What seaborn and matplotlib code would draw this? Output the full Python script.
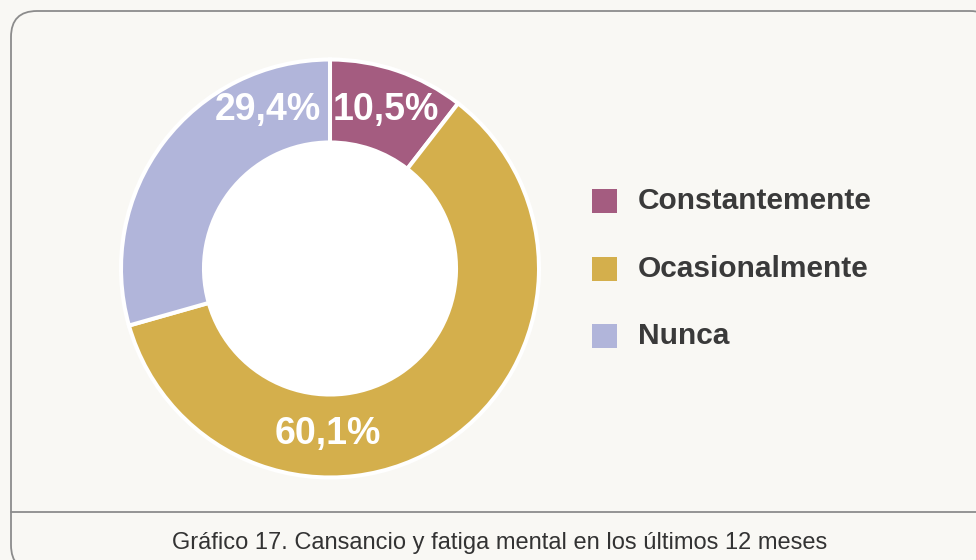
import matplotlib
matplotlib.use("Agg")
import matplotlib.pyplot as plt
from matplotlib.patches import FancyBboxPatch, Rectangle, Circle
import seaborn as sns

categories = ["Constantemente", "Ocasionalmente", "Nunca"]
values = [10.5, 60.1, 29.4]
value_labels = ["10,5%", "60,1%", "29,4%"]
colors = ["#a45c80", "#d4af4c", "#b1b5da"]
caption = "Gráfico 17. Cansancio y fatiga mental en los últimos 12 meses"

sns.set_theme(style="white")
plt.rcParams["font.family"] = ["Liberation Sans", "DejaVu Sans"]

bg = "#f9f8f4"
W, H = 976, 560
fig = plt.figure(figsize=(W / 100, H / 100), dpi=100, facecolor=bg)

# background layer in pixel units: rounded card, divider, caption, legend
bgax = fig.add_axes([0, 0, 1, 1], zorder=-1)
bgax.set_xlim(0, W)
bgax.set_ylim(H, 0)
bgax.axis("off")
bgax.add_patch(FancyBboxPatch((11, 11), 985, 560,
                              boxstyle="round,pad=0,rounding_size=26",
                              facecolor=bg, edgecolor="#8c8c8c",
                              linewidth=1.3))
bgax.plot([11, W], [512, 512], color="#8c8c8c", linewidth=1.3)
bgax.text(500, 543, caption, ha="center", va="center",
          fontsize=17, color="#333333")

legend_y = [201, 269, 336]
for cat, col, ly in zip(categories, colors, legend_y):
    bgax.add_patch(Rectangle((592, ly - 12), 25, 24, facecolor=col,
                             edgecolor="none"))
    bgax.text(638, ly, cat, ha="left", va="center", fontsize=21.5,
              fontweight="bold", color="#3a3a3a")

# donut
cx, cy, r = 330, 268.5, 209
ring = 0.397
ax = fig.add_axes([(cx - r - 4) / W, (H - cy - r - 4) / H,
                   (2 * r + 8) / W, (2 * r + 8) / H])
ax.set_facecolor("none")
palette = sns.color_palette(colors)
ax.add_patch(Circle((0, 0), 1 - ring, facecolor="white", edgecolor="none"))
wedges, _ = ax.pie(values, colors=palette, startangle=90, counterclock=False,
                   radius=1, wedgeprops=dict(width=ring, edgecolor="white",
                                             linewidth=2.9))
lim = (r + 4) / r
ax.set_xlim(-lim, lim)
ax.set_ylim(-lim, lim)
ax.set_aspect("equal")
ax.axis("off")

label_pos = [(0.265, 0.76), (-0.01, -0.79), (-0.295, 0.76)]
for (lx, ly), txt in zip(label_pos, value_labels):
    ax.text(lx, ly, txt, ha="center", va="center", color="white",
            fontsize=27, fontweight="bold")

fig.savefig("out.png", dpi=100, facecolor=bg)
